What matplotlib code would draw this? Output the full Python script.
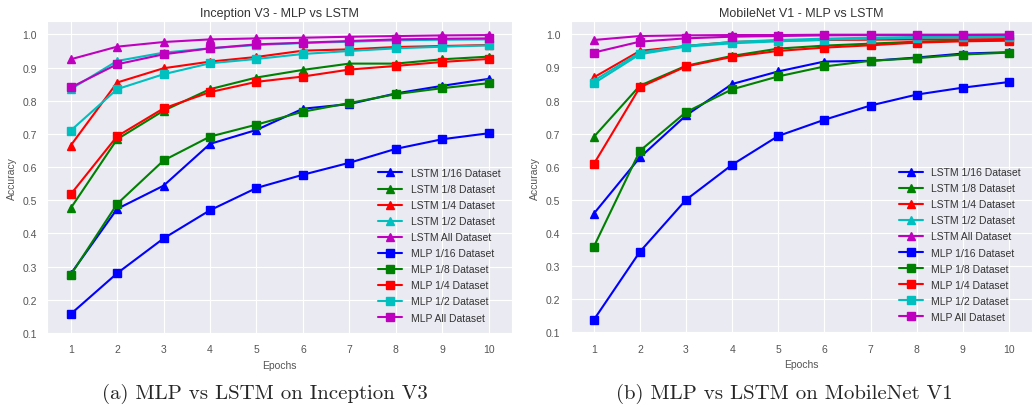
import matplotlib
matplotlib.use('Agg')
import matplotlib.pyplot as plt
import seaborn as sns
import numpy as np

sns.set_style('darkgrid')
plt.rcParams['font.family'] = ['Liberation Sans', 'DejaVu Sans']

epochs = np.arange(1, 11)

# Inception V3
inc_lstm_16 = [0.278, 0.474, 0.544, 0.670, 0.712, 0.776, 0.790, 0.822, 0.845, 0.866]
inc_lstm_8 = [0.476, 0.684, 0.770, 0.835, 0.870, 0.893, 0.912, 0.912, 0.925, 0.933]
inc_lstm_4 = [0.665, 0.855, 0.898, 0.918, 0.932, 0.951, 0.955, 0.962, 0.965, 0.968]
inc_lstm_2 = [0.835, 0.920, 0.945, 0.958, 0.968, 0.974, 0.978, 0.982, 0.984, 0.985]
inc_lstm_all = [0.925, 0.963, 0.977, 0.985, 0.988, 0.990, 0.993, 0.995, 0.997, 0.998]
inc_mlp_16 = [0.157, 0.280, 0.385, 0.470, 0.537, 0.577, 0.613, 0.655, 0.684, 0.702]
inc_mlp_8 = [0.275, 0.489, 0.620, 0.692, 0.728, 0.767, 0.793, 0.820, 0.838, 0.853]
inc_mlp_4 = [0.518, 0.693, 0.777, 0.826, 0.857, 0.873, 0.894, 0.905, 0.917, 0.926]
inc_mlp_2 = [0.710, 0.835, 0.880, 0.913, 0.926, 0.941, 0.950, 0.958, 0.963, 0.967]
inc_mlp_all = [0.840, 0.910, 0.940, 0.958, 0.970, 0.975, 0.980, 0.985, 0.987, 0.988]

# MobileNet V1
mob_lstm_16 = [0.458, 0.628, 0.755, 0.850, 0.888, 0.918, 0.920, 0.930, 0.942, 0.946]
mob_lstm_8 = [0.690, 0.845, 0.905, 0.935, 0.957, 0.966, 0.972, 0.978, 0.981, 0.983]
mob_lstm_4 = [0.870, 0.950, 0.965, 0.977, 0.981, 0.983, 0.984, 0.985, 0.985, 0.986]
mob_lstm_2 = [0.860, 0.945, 0.965, 0.977, 0.983, 0.987, 0.990, 0.992, 0.993, 0.994]
mob_lstm_all = [0.983, 0.995, 0.997, 0.998, 0.998, 0.999, 0.999, 0.999, 0.999, 0.999]
mob_mlp_16 = [0.137, 0.343, 0.500, 0.606, 0.693, 0.742, 0.785, 0.818, 0.839, 0.856]
mob_mlp_8 = [0.358, 0.648, 0.765, 0.834, 0.873, 0.903, 0.920, 0.928, 0.939, 0.945]
mob_mlp_4 = [0.608, 0.840, 0.903, 0.932, 0.950, 0.960, 0.967, 0.975, 0.979, 0.981]
mob_mlp_2 = [0.852, 0.940, 0.963, 0.973, 0.979, 0.984, 0.987, 0.990, 0.991, 0.992]
mob_mlp_all = [0.945, 0.978, 0.988, 0.993, 0.995, 0.997, 0.998, 0.998, 0.998, 0.999]

names = ['1/16', '1/8', '1/4', '1/2', 'All']
colors = ['#0000ff', '#008000', '#ff0000', '#00bfbf', '#bf00bf']

panels = [
    ('Inception V3 - MLP vs LSTM', '(a) MLP vs LSTM on Inception V3',
     [inc_lstm_16, inc_lstm_8, inc_lstm_4, inc_lstm_2, inc_lstm_all],
     [inc_mlp_16, inc_mlp_8, inc_mlp_4, inc_mlp_2, inc_mlp_all]),
    ('MobileNet V1 - MLP vs LSTM', '(b) MLP vs LSTM on MobileNet V1',
     [mob_lstm_16, mob_lstm_8, mob_lstm_4, mob_lstm_2, mob_lstm_all],
     [mob_mlp_16, mob_mlp_8, mob_mlp_4, mob_mlp_2, mob_mlp_all]),
]

fig = plt.figure(figsize=(10.32, 4.10), dpi=100)
boxes = [[0.046, 0.183, 0.450, 0.763], [0.553, 0.185, 0.447, 0.761]]
caption_x = [0.257, 0.760]

for box, cx, (title, caption, lstm, mlp) in zip(boxes, caption_x, panels):
    ax = fig.add_axes(box)
    for n, c, y in zip(names, colors, lstm):
        ax.plot(epochs, y, '^-', color=c, markersize=5.5, linewidth=1.5,
                label='LSTM %s Dataset' % n)
    for n, c, y in zip(names, colors, mlp):
        ax.plot(epochs, y, 's-', color=c, markersize=5.5, linewidth=1.5,
                label='MLP %s Dataset' % n)
    ax.set_xlim(0.5, 10.5)
    ax.set_ylim(0.097, 1.04)
    ax.set_xticks(epochs)
    ax.set_yticks(np.arange(0.1, 1.01, 0.1))
    ax.set_yticklabels(['%.1f' % v for v in np.arange(0.1, 1.01, 0.1)])
    ax.tick_params(labelsize=7.5, colors='#555555', pad=4)
    ax.set_title(title, fontsize=9, color='#333333', pad=4)
    ax.set_xlabel('Epochs', fontsize=7.5, color='#555555')
    ax.set_ylabel('Accuracy', fontsize=7.5, color='#555555')
    leg = ax.legend(loc='lower right', fontsize=7.5, labelspacing=0.58,
                    handlelength=2.3, borderaxespad=0.7, frameon=False)
    for t in leg.get_texts():
        t.set_color('#333333')
    fig.text(cx, 0.04, caption, ha='center', va='center', fontsize=15,
             family=['cmr10', 'DejaVu Serif'])

fig.savefig('out.png', dpi=100)
